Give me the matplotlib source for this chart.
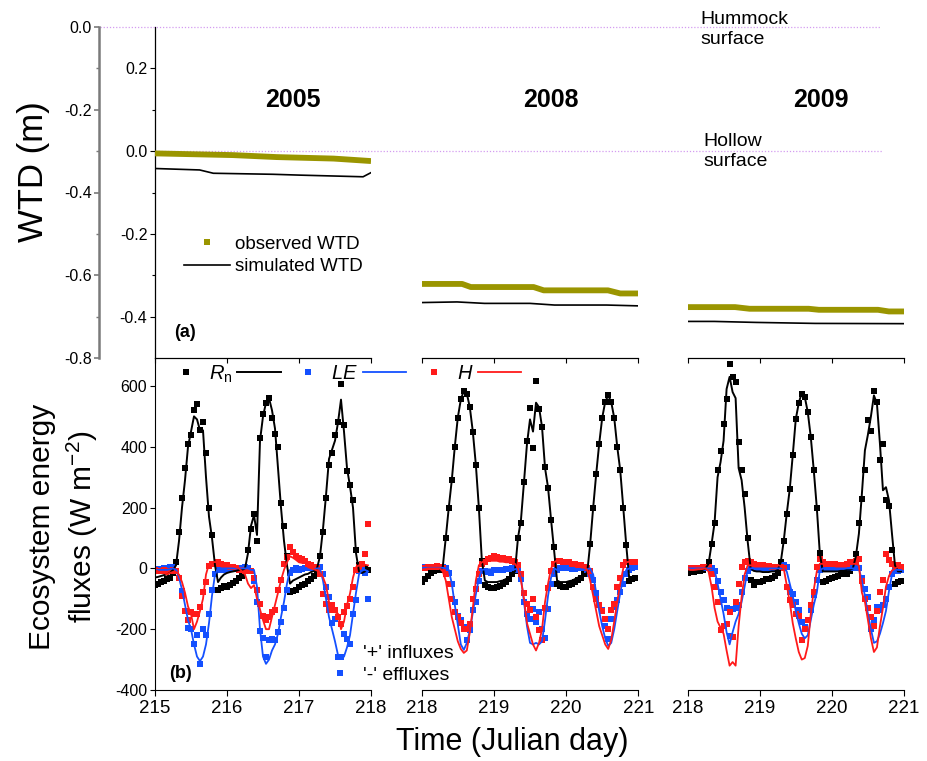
import numpy as np
import matplotlib
matplotlib.use("Agg")
import matplotlib.pyplot as plt
from matplotlib.lines import Line2D

plt.rcParams['font.family'] = ['Liberation Sans', 'DejaVu Sans']
plt.rcParams['axes.unicode_minus'] = False
plt.rcParams['mathtext.fontset'] = 'custom'
plt.rcParams['mathtext.rm'] = 'Liberation Sans'
plt.rcParams['mathtext.it'] = 'Liberation Sans:italic'
plt.rcParams['mathtext.bf'] = 'Liberation Sans:bold'

# ---------------- data ----------------
years = ['2005', '2008', '2009']
first_day = [215, 218, 218]
hour = np.arange(72) / 24.0

# water table depth (m, relative to hummock surface)
wtd_obs_t_2005 = [215.0, 216.08, 216.69, 217.48, 218.0]
wtd_obs_2005 = [-0.3055, -0.3096, -0.3144, -0.318, -0.324]
wtd_sim_t_2005 = [215.0, 215.62, 215.81, 216.64, 217.01, 217.89, 218.0]
wtd_sim_2005 = [-0.342, -0.3455, -0.3535, -0.356, -0.358, -0.362, -0.352]
wtd_obs_t_2008 = [218.0, 218.56, 218.68, 219.55, 219.69, 220.58, 220.75, 221.0]
wtd_obs_2008 = [-0.621, -0.621, -0.6285, -0.6285, -0.6365, -0.6365, -0.644, -0.644]
wtd_sim_t_2008 = [218.0, 218.49, 218.87, 219.5, 219.84, 220.56, 221.0]
wtd_sim_2008 = [-0.666, -0.6645, -0.668, -0.668, -0.672, -0.672, -0.674]
wtd_obs_t_2009 = [218.0, 218.66, 218.86, 219.68, 219.82, 220.64, 220.79, 221.0]
wtd_obs_2009 = [-0.677, -0.677, -0.681, -0.681, -0.6835, -0.6835, -0.6875, -0.6875]
wtd_sim_t_2009 = [218.0, 218.37, 218.95, 219.77, 221.0]
wtd_sim_2009 = [-0.7116, -0.7116, -0.714, -0.7164, -0.717]

# hourly energy fluxes (W m-2), three days per year
rn_obs_2005 = [-55, -50, -45, -40, -35, -30, -15, 20, 120, 230, 330, 410, 440, 520, 540, 455, 480, 380, 200, 110, 15, -70, -65, -58,
               -61, -55, -48, -40, -30, -25, -10, 60, 130, 178, 90, 430, 509, 545, 562, 496, 443, 400, 215, 140, 40, -78, -75, -70,
               -61, -55, -50, -40, -35, -25, -20, 40, 120, 230, 340, 381, 440, 481, 605, 470, 320, 275, 225, 60, 10, 5, 0, -5]
rn_sim_2005 = [-30, -28, -25, -22, -20, -15, -5, 10, 90, 200, 290, 400, 450, 500, 490, 454, 454, 300, 170, 100, 10, -45, -30, -20,
               -15, -12, -10, -8, -5, -5, 0, 50, 140, 175, 110, 420, 500, 545, 560, 520, 460, 330, 200, 90, 10, -50, -40, -35,
               -30, -25, -20, -18, -12, -8, 0, 40, 130, 240, 360, 390, 420, 480, 555, 450, 330, 270, 200, 50, -10, -15, -10, 0]
le_obs_2005 = [-2, -3, -2, 0, 2, 3, 4, -10, -30, -75, -140, -195, -200, -250, -220, -315, -200, -220, -150, -70, -20, 0, -5, -3,
               -5, -3, 0, -2, -3, 0, 5, 0, -10, -40, -110, -205, -230, -290, -235, -231, -237, -210, -175, -130, -70, -15, -5, 0,
               -5, -3, 0, 0, 2, 3, 5, 4, -20, -60, -94, -180, -166, -292, -292, -215, -231, -248, -150, -105, -10, -5, -15, -100]
le_sim_2005 = [-5, -5, -5, -5, -5, -3, 0, -5, -30, -70, -120, -170, -200, -250, -290, -305, -290, -250, -180, -90, -20, 0, 0, 0,
               0, 0, 0, 0, 0, 0, 0, 0, -5, -5, -60, -200, -290, -314, -300, -270, -250, -215, -160, -110, -50, -5, -10, -10,
               -8, -8, -5, -5, -5, -3, 0, 0, -40, -100, -160, -200, -240, -285, -298, -290, -260, -220, -150, -80, -20, -5, -5, -10]
h_obs_2005 = [-5, -8, -10, -5, -10, -8, -5, -10, -30, -90, -140, -171, -144, -149, -149, -127, -78, -45, 7, 13, 15, 20, 15, 10,
              10, 5, 5, 0, -5, -5, -7, -10, -7, -30, -72, -116, -155, -171, -160, -144, -138, -72, -39, 15, 37, 70, 54, 40,
              35, 30, 25, 15, 10, 5, 0, -20, -83, -116, -138, -120, -138, -160, -182, -144, -125, -100, -60, -5, 4, 15, 48, 147]
h_sim_2005 = [-5, -10, -15, -15, -20, -15, -12, -12, -20, -45, -80, -125, -150, -200, -175, -140, -100, -20, 15, 20, 21, 20, 18, 15,
              12, 10, 8, 4, 0, -10, -20, -50, -65, -55, -100, -135, -170, -200, -200, -160, -120, -80, -39, -5, 20, 40, 35, 28,
              20, 18, 21, 4, 0, -3, -7, -15, -29, -56, -110, -135, -144, -149, -200, -175, -120, -83, -30, 4, 10, 15, 12, 10]

rn_obs_2008 = [-45, -35, -25, -15, -10, -5, -5, 5, 100, 200, 290, 400, 496, 558, 583, 575, 530, 449, 341, 200, 25, -56, -60, -65,
               -65, -62, -58, -52, -45, -35, -20, -10, 100, 150, 284, 420, 527, 397, 616, 525, 465, 333, 266, 160, 70, -50, -58, -60,
               -60, -55, -50, -45, -38, -30, -20, -17, 80, 200, 310, 410, 495, 548, 569, 547, 495, 400, 322, 200, 76, -40, -35, -30]
rn_sim_2008 = [-40, -35, -28, -20, -15, -10, -8, 5, 100, 200, 290, 400, 496, 555, 585, 575, 530, 449, 341, 200, 25, -40, -45, -45,
               -45, -45, -42, -40, -35, -30, -20, -10, 100, 160, 284, 410, 490, 450, 545, 530, 465, 330, 266, 160, 60, -40, -45, -45,
               -45, -42, -40, -35, -30, -25, -20, -15, 80, 200, 310, 410, 495, 548, 569, 547, 495, 400, 322, 200, 76, -35, -35, -30]
le_obs_2008 = [5, 5, 3, 3, 5, 5, 5, 5, 0, -15, -50, -110, -155, -171, -193, -237, -204, -138, -110, -40, -10, -10, -12, -15,
               -5, -5, -5, -5, -3, -3, 0, 0, -5, -34, -110, -150, -166, -133, -177, -144, -200, -230, -133, -50, -17, -5, 0, 0,
               0, 0, -3, -3, 0, 0, 0, -5, -20, -39, -80, -120, -138, -188, -231, -166, -127, -105, -78, -50, -20, -5, 0, 5]
le_sim_2008 = [2, 2, 2, 2, 2, 2, 2, 2, 0, -5, -50, -120, -185, -250, -268, -245, -205, -145, -85, -35, -5, -3, -3, -3,
               -3, -3, -3, -3, -3, -3, -3, -3, 0, -30, -110, -190, -245, -250, -245, -250, -240, -170, -90, -30, 0, -5, -5, -5,
               -5, -5, -5, -5, -3, -3, -3, -3, 0, -20, -80, -140, -190, -230, -255, -245, -200, -140, -80, -30, -5, 0, 0, 5]
h_obs_2008 = [0, 0, 5, 5, 5, 8, 5, 0, -20, -50, -100, -144, -160, -180, -198, -198, -182, -100, -67, -20, 15, 21, 30, 35,
              40, 38, 35, 35, 32, 30, 25, 20, 10, -20, -80, -116, -138, -100, -160, -204, -237, -130, -65, -10, 15, 25, 25, 20,
              20, 20, 15, 15, 10, 10, 5, 0, -10, -60, -100, -122, -140, -165, -200, -138, -116, -60, -30, 10, 20, 20, 20, 20]
h_sim_2008 = [-5, -3, 0, 0, 0, 0, 0, -10, -40, -100, -160, -200, -240, -265, -278, -270, -210, -130, -40, 10, 20, 25, 25, 25,
              25, 25, 22, 22, 20, 20, 18, 15, 0, -40, -100, -180, -215, -250, -270, -245, -200, -110, -50, 0, 20, 26, 28, 26,
              20, 18, 15, 12, 10, 5, 3, -5, -40, -90, -140, -190, -220, -250, -265, -235, -175, -110, -50, 0, 20, 22, 22, 22]

rn_obs_2009 = [-15, -10, -12, -10, -8, -5, 0, 20, 80, 150, 322, 386, 476, 558, 673, 629, 613, 415, 322, 246, 100, -39, -56, -45,
               -45, -40, -35, -34, -30, -25, -15, 20, 90, 180, 260, 372, 490, 544, 575, 564, 514, 432, 322, 200, 50, -45, -40, -35,
               -30, -28, -25, -20, -18, -17, -10, 0, 48, 150, 227, 322, 489, 451, 582, 547, 358, 410, 224, 204, 60, -50, -45, -40]
rn_sim_2009 = [-10, -10, -10, -10, -8, -5, 0, 15, 80, 150, 300, 350, 420, 590, 630, 580, 560, 330, 290, 200, 90, 0, -8, -10,
               -10, -12, -12, -12, -10, -10, -5, 20, 90, 180, 260, 372, 490, 544, 578, 564, 514, 432, 322, 200, 50, -10, -10, -10,
               -10, -10, -10, -8, -8, -5, -5, 0, 40, 114, 246, 388, 440, 500, 569, 542, 410, 257, 267, 224, 114, 10, -10, -10]
le_obs_2009 = [0, 0, 2, 2, 0, 0, 0, 0, 0, -10, -40, -78, -105, -129, -224, -133, -129, -122, -78, -30, -7, 0, 0, 0,
               0, 0, 0, 0, 0, 2, 5, 5, 10, 5, -78, -83, -111, -138, -177, -193, -170, -138, -89, -39, -5, 0, 0, 0,
               0, 0, 0, 0, 0, 0, 0, 0, 5, 0, -30, -67, -94, -198, -171, -127, -138, -120, -100, -61, -20, -5, -10, -5]
le_sim_2009 = [0, 0, 0, 0, 0, 0, 0, 0, 0, -5, -50, -100, -150, -210, -250, -210, -175, -150, -110, -60, -5, 0, 0, 0,
               0, 0, 0, 0, 0, 0, 0, 0, 0, -10, -50, -90, -140, -180, -215, -230, -220, -170, -120, -80, -7, 0, 0, 0,
               0, 0, 0, 0, 0, 0, 0, 0, 0, 0, -40, -90, -150, -200, -245, -240, -215, -180, -140, -75, -20, -5, -5, -5]
h_obs_2009 = [0, 0, 0, 0, 2, 3, 3, 5, -20, -60, -111, -204, -188, -182, -144, -226, -111, -50, 4, 20, 25, 20, 15, 10,
              10, 10, 8, 8, 5, 5, 5, 5, 0, -60, -105, -120, -149, -155, -237, -200, -170, -120, -78, 4, 32, 20, 15, 15,
              15, 15, 10, 10, 10, 15, 20, 20, 25, 32, -40, -100, -130, -160, -188, -140, -78, -39, 48, 26, 15, 10, 10, 5]
h_sim_2009 = [0, -5, -5, -3, -3, -2, 0, -10, -60, -130, -175, -195, -215, -270, -320, -308, -320, -190, -94, -20, 10, 10, 10, 12,
              12, 12, 12, 10, 10, 10, 10, 8, 0, -55, -110, -180, -230, -275, -300, -295, -255, -150, -70, -10, 15, 15, 15, 15,
              15, 15, 15, 15, 15, 15, 15, 15, 15, 10, -80, -110, -170, -230, -275, -260, -190, -130, -60, -25, -7, 0, 5, 5]

wtd = [(wtd_obs_t_2005, wtd_obs_2005, wtd_sim_t_2005, wtd_sim_2005),
       (wtd_obs_t_2008, wtd_obs_2008, wtd_sim_t_2008, wtd_sim_2008),
       (wtd_obs_t_2009, wtd_obs_2009, wtd_sim_t_2009, wtd_sim_2009)]
flux = [(rn_obs_2005, rn_sim_2005, le_obs_2005, le_sim_2005, h_obs_2005, h_sim_2005),
        (rn_obs_2008, rn_sim_2008, le_obs_2008, le_sim_2008, h_obs_2008, h_sim_2008),
        (rn_obs_2009, rn_sim_2009, le_obs_2009, le_sim_2009, h_obs_2009, h_sim_2009)]

OLIVE = '#9a9500'
BLUE = '#1450ff'
RED = '#ff1a1a'
GUIDE = '#d49cf0'

# ---------------- layout ----------------
W, H = 927, 761
fig = plt.figure(figsize=(W / 100, H / 100), dpi=100)


def rect(x0, x1, y0, y1):
    return [x0 / W, 1 - y1 / H, (x1 - x0) / W, (y1 - y0) / H]


cols = [(155, 371), (421.7, 638.3), (687.5, 904)]
top_axes = []
bot_axes = []

for i, (x0, x1) in enumerate(cols):
    d0 = first_day[i]
    t = d0 + hour

    # ---- (b) energy fluxes ----
    ax = fig.add_axes(rect(x0, x1, 358, 690), facecolor='none')
    rn_o, rn_s, le_o, le_s, h_o, h_s = flux[i]
    ax.plot(t, rn_o, 's', color='k', ms=4.3, mew=0)
    ax.plot(t, le_o, 's', color=BLUE, ms=4.3, mew=0)
    ax.plot(t, h_o, 's', color=RED, ms=4.3, mew=0)
    ax.plot(t, rn_s, '-', color='k', lw=1.4)
    ax.plot(t, le_s, '-', color=BLUE, lw=1.3)
    ax.plot(t, h_s, '-', color=RED, lw=1.3)
    ax.set_xlim(d0, d0 + 3)
    ax.set_ylim(-400, 692)
    ax.set_xticks([d0, d0 + 1, d0 + 2, d0 + 3])
    ax.tick_params(axis='x', direction='out', length=4, width=0.8, labelsize=13.5, pad=3)
    ax.spines['right'].set_visible(False)
    for s in ['top', 'bottom', 'left']:
        ax.spines[s].set_linewidth(0.8)
    sec = ax.secondary_xaxis('top')
    sec.set_xticks([d0, d0 + 1, d0 + 2, d0 + 3])
    sec.tick_params(direction='in', length=3.5, width=0.8, labeltop=False)
    sec.spines['top'].set_linewidth(0.8)
    if i == 0:
        ax.set_yticks([-400, -200, 0, 200, 400, 600])
        ax.tick_params(axis='y', direction='out', length=3.5, width=0.8, labelsize=11.5, pad=2)
    else:
        ax.spines['left'].set_visible(False)
        ax.set_yticks([])
    bot_axes.append(ax)

    # ---- (a) water table depth ----
    at = fig.add_axes(rect(x0, x1, 27, 358), facecolor='none')
    ot, ov, st, sv = wtd[i]
    at.plot(ot, ov, '-', color=OLIVE, lw=4.2, solid_capstyle='butt', zorder=3)
    at.plot(st, sv, '-', color='k', lw=1.2, zorder=3)
    at.set_xlim(d0, d0 + 3)
    at.set_ylim(-0.8, 0.0)
    at.set_xticks([])
    for s in ['top', 'right', 'bottom']:
        at.spines[s].set_visible(False)
    if i > 0:
        at.spines['left'].set_visible(False)
        at.set_yticks([])
    top_axes.append(at)

# outer (hummock-referenced) gray axis and inner (hollow-referenced) axis
a0 = top_axes[0]
a0.spines['left'].set_position(('outward', 40))
a0.spines['left'].set_color('#7a7a7a')
a0.spines['left'].set_linewidth(1.8)
a0.set_yticks([0.0, -0.2, -0.4, -0.6, -0.8], labels=['0.0', '-0.2', '-0.4', '-0.6', '-0.8'])
a0.set_yticks([-0.1, -0.3, -0.5, -0.7], minor=True)
a0.tick_params(axis='y', which='major', direction='out', length=3.5, width=1.2, color='#7a7a7a', labelsize=11.5, pad=2)
a0.tick_params(axis='y', which='minor', direction='out', length=2, width=1.0, color='#7a7a7a')

inner = a0.secondary_yaxis('left', functions=(lambda y: y + 0.3, lambda y: y - 0.3))
inner.set_yticks([0.2, 0.0, -0.2, -0.4], labels=['0.2', '0.0', '-0.2', '-0.4'])
inner.set_yticks([0.1, -0.1, -0.3], minor=True)
inner.tick_params(axis='y', which='major', direction='out', length=3.5, width=0.8, labelsize=11.5, pad=2)
inner.tick_params(axis='y', which='minor', direction='out', length=2, width=0.8)
inner.spines['left'].set_linewidth(0.9)

# hummock and hollow surface guides
a0.axhline(0.0, xmin=(100 - 155) / 216, xmax=(880 - 155) / 216, ls=(0, (1, 1.5)), lw=0.9,
           color=GUIDE, clip_on=False, zorder=1)
a0.axhline(-0.3, xmin=0, xmax=(883 - 155) / 216, ls=(0, (1, 1.5)), lw=0.9,
           color=GUIDE, clip_on=False, zorder=1)

# legends
a0.legend([Line2D([], [], ls='none', marker='s', ms=4.5, mew=0, color=OLIVE),
           Line2D([], [], color='k', lw=1.2)],
          ['observed WTD', 'simulated WTD'],
          loc='center left', bbox_to_anchor=((184 - 155) / 216, (358 - 255.5) / 331),
          frameon=False, fontsize=13.5, handlelength=2.45, handletextpad=0.27,
          labelspacing=0.3, borderpad=0, borderaxespad=0)

b0 = bot_axes[0]
leg_b = b0.legend([Line2D([], [], ls='none', marker='s', ms=4.3, mew=0, color='k'),
                   Line2D([], [], color='k', lw=1.4),
                   Line2D([], [], ls='none', marker='s', ms=4.3, mew=0, color=BLUE),
                   Line2D([], [], color=BLUE, lw=1.3),
                   Line2D([], [], ls='none', marker='s', ms=4.3, mew=0, color=RED),
                   Line2D([], [], color=RED, lw=1.3)],
                  [r'$R_{\mathrm{n}}$', '', r'$LE$', '', r'$H$', ''],
                  ncol=6, loc='center left', bbox_to_anchor=((164.5 - 155) / 216, (690 - 374) / 332),
                  frameon=False, fontsize=14.5, handlelength=2.15, handletextpad=0.05,
                  columnspacing=0.25, borderpad=0, borderaxespad=0)
b0.add_artist(leg_b)
b0.legend([Line2D([], [], ls='none'),
           Line2D([], [], ls='none', marker='s', ms=4.3, mew=0, color=BLUE)],
          ["'+' influxes", "'-' effluxes"],
          loc='center left', bbox_to_anchor=((325 - 155) / 216, (690 - 664) / 332),
          frameon=False, fontsize=14, handlelength=1.55, handletextpad=0.4,
          labelspacing=0.25, borderpad=0, borderaxespad=0)

# ---------------- text ----------------
def fx(x):
    return x / W


def fy(y):
    return 1 - y / H


for yr, xc in zip(years, [293, 551, 821]):
    fig.text(fx(xc), fy(100), yr, fontsize=18, weight='bold', ha='center', va='center')

fig.text(fx(700), fy(29.5), 'Hummock\nsurface', fontsize=14, ha='left', va='center', linespacing=1.25)
fig.text(fx(703), fy(151.5), 'Hollow\nsurface', fontsize=14, ha='left', va='center', linespacing=1.25)
fig.text(fx(185), fy(332), '(a)', fontsize=13, weight='bold', ha='center', va='center')
fig.text(fx(180), fy(673), '(b)', fontsize=13, weight='bold', ha='center', va='center')

fig.text(fx(33), fy(172), 'WTD (m)', fontsize=25, rotation=90, ha='center', va='center')
fig.text(fx(64), fy(527), 'Ecosystem energy\nfluxes (W m$^{-2}$)', fontsize=21.5, rotation=90,
         ha='center', va='center', multialignment='center', linespacing=1.3)
fig.text(fx(512), fy(742), 'Time (Julian day)', fontsize=22, ha='center', va='center')

fig.savefig('out.png', dpi=100)
